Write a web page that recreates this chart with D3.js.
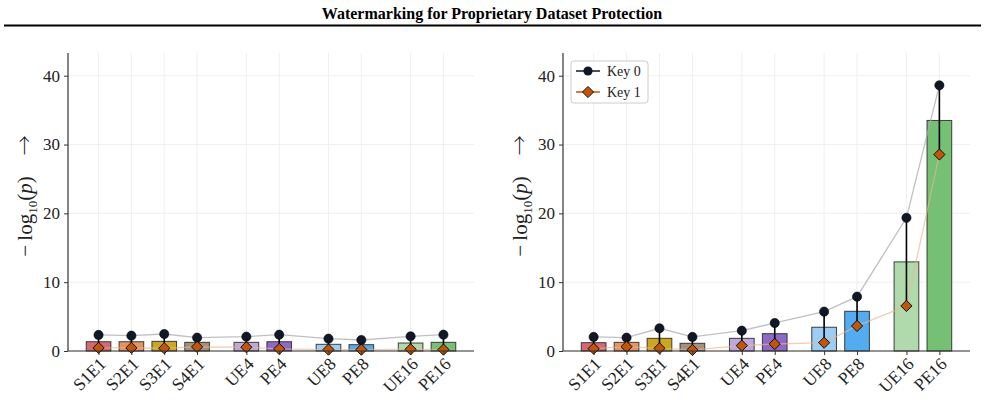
<!DOCTYPE html>
<html><head><meta charset="utf-8">
<script src="https://cdn.jsdelivr.net/npm/d3@7"></script>
<style>body{margin:0;background:#fff}svg{display:block}text{font-family:"Liberation Serif","DejaVu Serif",serif}</style>
</head><body><svg id="c" width="985" height="404"></svg>
<script>
const categories = ["S1E1","S2E1","S3E1","S4E1","UE4","PE4","UE8","PE8","UE16","PE16"];
const groups = [0,0,0,0,1,1,2,2,3,3];
const colors = ["#d0616b","#e58d5a","#c9a015","#a08a73","#b9a3dc","#8862c4","#96caf4","#4aa7ef","#acd8a8","#6fbd6e"];
const yTicks = [0,10,20,30,40];
// Left panel
const leftBar  = [1.35,1.35,1.40,1.26,1.26,1.35,0.97,0.92,1.16,1.26];
const leftKey0 = [2.33,2.23,2.47,1.94,2.08,2.37,1.79,1.60,2.13,2.37];
const leftKey1 = [0.45,0.45,0.40,0.60,0.55,0.30,0.20,0.20,0.25,0.20];
// Right panel
const rightBar  = [1.21,1.26,1.84,1.12,1.84,2.52,3.45,5.77,12.95,33.5];
const rightKey0 = [2.04,1.94,3.30,2.04,2.95,4.07,5.72,7.90,19.35,38.6];
const rightKey1 = [0.34,0.63,0.39,0.15,0.78,1.02,1.21,3.64,6.55,28.55];

const svg = d3.select("#c");
svg.append("text").attr("x",492).attr("y",19).attr("text-anchor","middle")
  .attr("font-weight","bold").attr("font-size",16).text("Watermarking for Proprietary Dataset Protection");
svg.append("line").attr("x1",4).attr("x2",981).attr("y1",25.5).attr("y2",25.5).attr("stroke","#000").attr("stroke-width",2);

const pos = categories.map((c,i)=> i + groups[i]*0.5);

function panel(x0,x1,bars,k0,k1,legend){
  const g = svg.append("g");
  const x = d3.scaleLinear().domain([-0.93,11.43]).range([x0,x1]);
  const y = d3.scaleLinear().domain([0,43.3]).range([351,53]);
  // grid
  g.selectAll(".vg").data(pos).join("line").attr("x1",d=>x(d)).attr("x2",d=>x(d))
    .attr("y1",53).attr("y2",351).attr("stroke","#ebebeb").attr("stroke-width",0.8);
  g.selectAll(".hg").data(yTicks).join("line").attr("x1",x0).attr("x2",x1)
    .attr("y1",d=>y(d)).attr("y2",d=>y(d)).attr("stroke","#ebebeb").attr("stroke-width",0.8);
  // bars
  const bw = x(0.75)-x(0);
  g.selectAll(".bar").data(bars).join("rect")
    .attr("x",(d,i)=>x(pos[i])-bw/2).attr("width",bw)
    .attr("y",d=>y(d)).attr("height",d=>y(0)-y(d))
    .attr("fill",(d,i)=>colors[i]).attr("fill-opacity",0.95)
    .attr("stroke","#222").attr("stroke-width",1).attr("stroke-opacity",0.85);
  // lines
  const line = d3.line().x((d,i)=>x(pos[i])).y(d=>y(d));
  g.append("path").datum(k0).attr("d",line).attr("fill","none").attr("stroke","#a9aab4").attr("stroke-opacity",0.75).attr("stroke-width",1.3);
  g.append("path").datum(k1).attr("d",line).attr("fill","none").attr("stroke","#e9b58e").attr("stroke-opacity",0.65).attr("stroke-width",1.3);
  // error bars
  g.selectAll(".eb").data(k0).join("line").attr("x1",(d,i)=>x(pos[i])).attr("x2",(d,i)=>x(pos[i]))
    .attr("y1",d=>y(d)).attr("y2",(d,i)=>y(k1[i])).attr("stroke","#000").attr("stroke-width",1.6);
  // markers
  g.selectAll(".m0").data(k0).join("circle").attr("cx",(d,i)=>x(pos[i])).attr("cy",d=>y(d))
    .attr("r",4.6).attr("fill","#101828").attr("stroke","#000").attr("stroke-width",0.6);
  const dia = d3.symbol().type(d3.symbolDiamond2).size(80);
  g.selectAll(".m1").data(k1).join("path").attr("d",dia)
    .attr("transform",(d,i)=>`translate(${x(pos[i])},${y(d)})`)
    .attr("fill","#c0560c").attr("stroke","#000").attr("stroke-width",0.9);
  // axes
  const ya = g.append("g").attr("transform",`translate(${x0},0)`)
    .call(d3.axisLeft(y).tickValues(yTicks).tickSize(4).tickPadding(4));
  ya.select(".domain").remove();
  ya.selectAll("text").attr("font-size",17).attr("fill","#222");
  ya.selectAll("line").attr("stroke","#333");
  const xa = g.append("g").attr("transform",`translate(0,351)`)
    .call(d3.axisBottom(x).tickValues(pos).tickSize(4).tickFormat((d,i)=>categories[i]));
  xa.select(".domain").remove();
  xa.selectAll("line").attr("stroke","#333");
  xa.selectAll("text").attr("font-size",17.5).attr("fill","#222")
    .attr("text-anchor","end").attr("dy",0).attr("y",0)
    .attr("transform","translate(8,14) rotate(-45)");
  g.append("line").attr("x1",x0).attr("x2",x0).attr("y1",53).attr("y2",351).attr("stroke","#333").attr("stroke-width",1.2);
  g.append("line").attr("x1",x0).attr("x2",x1).attr("y1",351).attr("y2",351).attr("stroke","#333").attr("stroke-width",1.2);
  // y label
  const lx = x0-36, ly = 196;
  const t = g.append("text").attr("transform",`translate(${lx},${ly}) rotate(-90)`)
    .attr("text-anchor","middle").attr("font-size",21).attr("fill","#222");
  t.append("tspan").text("\u2212\u2009log");
  t.append("tspan").attr("font-size",13).attr("dy",5).text("10");
  t.append("tspan").attr("dy",-5).text("(");
  t.append("tspan").attr("font-style","italic").text("p");
  t.append("tspan").text(")\u2003");
  t.append("tspan").attr("font-family","Noto Sans CJK SC").attr("font-weight",300).attr("font-size",20).text("\u2192");
  if(legend){
    const lg = g.append("g");
    lg.append("rect").attr("x",x0+8).attr("y",61).attr("width",77).attr("height",42).attr("rx",3)
      .attr("fill","#fff").attr("fill-opacity",0.85).attr("stroke","#ccc");
    const items=[["Key 0","#101828","#101828",false],["Key 1","#c0560c","#c0560c",true]];
    items.forEach((it,j)=>{
      const yy = 71+j*21;
      lg.append("line").attr("x1",x0+13).attr("x2",x0+37).attr("y1",yy).attr("y2",yy).attr("stroke",it[1]).attr("stroke-width",1.5);
      if(it[3]) lg.append("path").attr("d",dia).attr("transform",`translate(${x0+25},${yy})`).attr("fill",it[2]).attr("stroke","#000").attr("stroke-width",0.9);
      else lg.append("circle").attr("cx",x0+25).attr("cy",yy).attr("r",4.6).attr("fill",it[2]);
      lg.append("text").attr("x",x0+44).attr("y",yy+4.5).attr("font-size",14).attr("fill","#222").text(it[0]);
    });
  }
}
panel(68,474,leftBar,leftKey0,leftKey1,false);
panel(563,970,rightBar,rightKey0,rightKey1,true);
</script></body></html>
